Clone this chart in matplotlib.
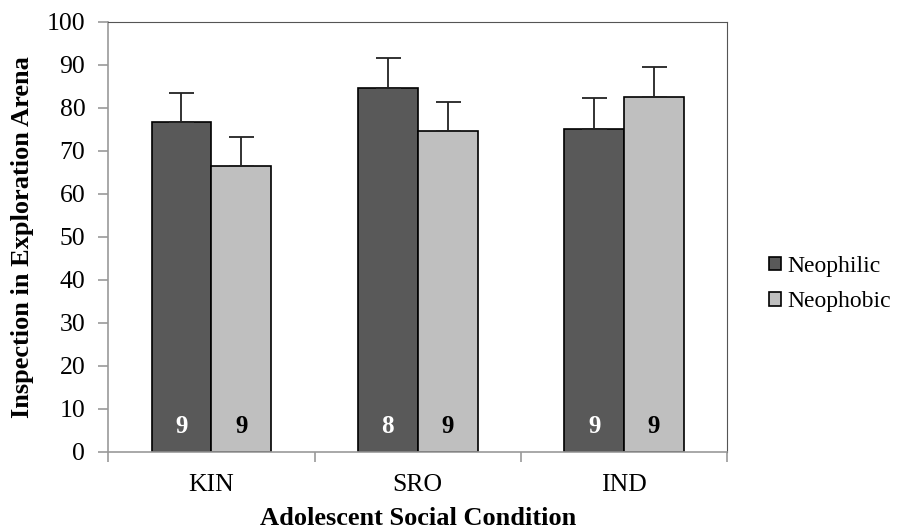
import numpy as np
import matplotlib
matplotlib.use("Agg")
from matplotlib import pyplot as plt

conditions = ["KIN", "SRO", "IND"]
neophilic = [76.8, 84.6, 75.1]
neophobic = [66.5, 74.5, 82.5]
neophilic_err = [6.7, 6.9, 7.1]
neophobic_err = [6.8, 6.9, 6.9]
neophilic_n = ["9", "8", "9"]
neophobic_n = ["9", "9", "9"]

plt.rcParams['font.family'] = ['Liberation Serif', 'DejaVu Serif']

fig = plt.figure(figsize=(9.09, 5.31), dpi=100)
ax = fig.add_axes([0.119, 0.149, 0.681, 0.810])

x = np.arange(len(conditions))
w = 0.29
dark = '#595959'
light = '#bfbfbf'

ax.bar(x - w/2, neophilic, w, color=dark, edgecolor='black', linewidth=1.2,
       label='Neophilic', zorder=2)
ax.bar(x + w/2, neophobic, w, color=light, edgecolor='black', linewidth=1.2,
       label='Neophobic', zorder=2)
ax.errorbar(x - w/2, neophilic, yerr=[np.zeros(3), neophilic_err], fmt='none',
            ecolor='#222222', elinewidth=1.3, capsize=9, capthick=1.3, zorder=3)
ax.errorbar(x + w/2, neophobic, yerr=[np.zeros(3), neophobic_err], fmt='none',
            ecolor='#222222', elinewidth=1.3, capsize=9, capthick=1.3, zorder=3)

for i in range(len(conditions)):
    ax.text(x[i] - w/2, 6, neophilic_n[i], ha='center', va='center',
            color='white', fontsize=18, fontweight='bold')
    ax.text(x[i] + w/2, 6, neophobic_n[i], ha='center', va='center',
            color='black', fontsize=18, fontweight='bold')

ax.set_xlim(-0.5, 2.5)
ax.set_ylim(0, 100)
ax.set_yticks(np.arange(0, 101, 10))
ax.set_xticks(x)
ax.set_xticklabels(conditions)
ax.set_xticks(np.arange(-0.5, 3.0, 1.0), minor=True)
ax.tick_params(axis='x', which='major', length=0, labelsize=18.5, pad=16)
ax.tick_params(axis='x', which='minor', length=7, color='#999999', width=1.2)
ax.tick_params(axis='y', length=7, color='#999999', width=1.2, labelsize=18.5, pad=9.5)

ax.spines['left'].set_color('#999999')
ax.spines['bottom'].set_color('#999999')
ax.spines['left'].set_linewidth(1.2)
ax.spines['bottom'].set_linewidth(1.2)
ax.spines['top'].set_color('#555555')
ax.spines['right'].set_color('#555555')

ax.set_xlabel('Adolescent Social Condition', fontsize=19, fontweight='bold')
ax.set_ylabel('Inspection in Exploration Arena', fontsize=19, fontweight='bold')
ax.xaxis.set_label_coords(0.5, -0.129)
ax.yaxis.set_label_coords(-0.12, 0.5)

fig.legend(loc='center left', bbox_to_anchor=(0.836, 0.465), frameon=False,
           fontsize=17, handlelength=0.5, handleheight=0.5, handletextpad=0.25,
           labelspacing=0.6, borderaxespad=0)

fig.savefig('out.png', dpi=100)
